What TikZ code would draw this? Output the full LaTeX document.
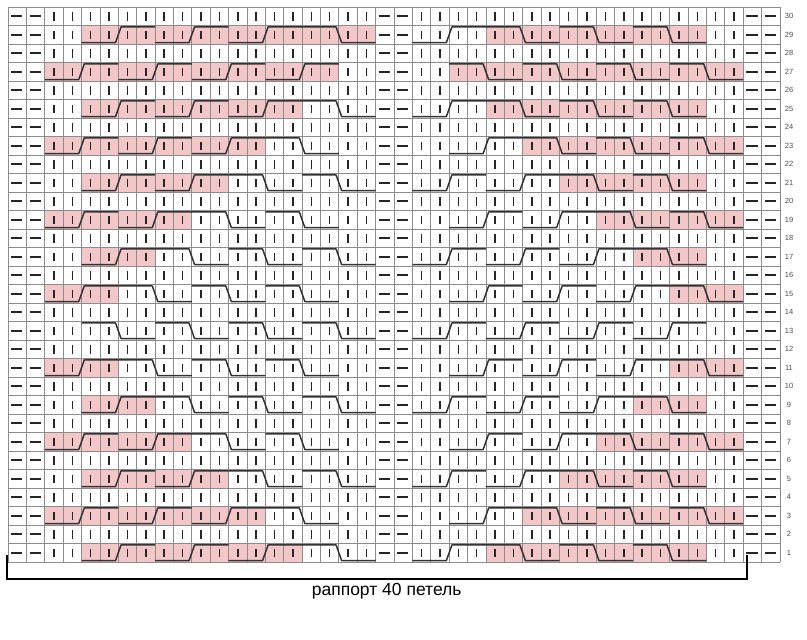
\documentclass[tikz,border=0pt]{standalone}
\usepackage{fontspec}
\setmainfont{Liberation Sans}
\usepackage{xcolor}
\definecolor{cablepink}{RGB}{243,198,199}
\definecolor{gridgray}{RGB}{140,140,140}
\usepackage{tikz}
\tikzset{
  gridln/.style ={draw=gridgray, line width=0.8pt},
  knit/.style   ={draw=black!85, line width=1.5pt},
  purl/.style   ={draw=black!85, line width=1.8pt},
  cab/.style    ={draw=black!80, line width=1.5pt, line join=round},
  pinkc/.style  ={fill=cablepink},
  rownum/.style ={font=\fontsize{7.5}{8}\selectfont, text=black!70, inner sep=0pt},
  caption/.style={font=\fontsize{17.5}{20}\selectfont, inner sep=0pt},
  bracket/.style={draw=black, line width=1.8pt},
}
% 2/2 cables over four stitches: #1 = first column, #2 = chart row
\newcommand{\cabup}[2]{%
  \draw[cab] ({#1-1},{30.92-#2}) -- ({#1+0.85},{30.92-#2})
             -- ({#1+1.15},{30.08-#2}) -- ({#1+3},{30.08-#2});}
\newcommand{\cabdn}[2]{%
  \draw[cab] ({#1-1},{30.08-#2}) -- ({#1+0.85},{30.08-#2})
             -- ({#1+1.15},{30.92-#2}) -- ({#1+3},{30.92-#2});}

\begin{document}
\begin{tikzpicture}[x=1pt,y=-1pt]
  \useasboundingbox (0,0) rectangle (807,640);
  \begin{scope}[shift={(8,7)}, x=18.381pt, y=-18.5pt]
    % shaded cables
    \foreach \r/\cl in {1/{5,9,13,27,31,35}, 3/{3,7,11,29,33,37}, 5/{5,9,31,35},
                        7/{3,7,33,37}, 9/{5,35}, 11/{3,37}, 15/{3,37}, 17/{5,35},
                        19/{3,7,33,37}, 21/{5,9,31,35}, 23/{3,7,11,29,33,37},
                        25/{5,9,13,27,31,35}, 27/{3,7,11,15,25,29,33,37},
                        29/{5,9,13,17,27,31,35}}
      \foreach \c in \cl {\fill[pinkc] ({\c-1},{30-\r}) rectangle ({\c+3},{31-\r});}
    % grid
    \foreach \c in {0,...,42} \draw[gridln] (\c,0) -- (\c,30);
    \foreach \r in {0,...,30} \draw[gridln] (0,\r) -- (42,\r);
    % knit and purl stitches
    \foreach \s in {0,20}
      \foreach \c in {3,...,20}
        \foreach \r in {1,...,30}
          \draw[knit] ({\c+\s-0.5},{30.29-\r}) -- ({\c+\s-0.5},{30.74-\r});
    \foreach \c in {1,2,21,22,41,42}
      \foreach \r in {1,...,30}
        \draw[purl] ({\c-0.83},{30.5-\r}) -- ({\c-0.22},{30.5-\r});
    % cables
    \foreach \r/\cl in {1/{5,9,13,23}, 3/{3,7,11,25}, 5/{5,9,23,27}, 7/{3,7,25,29},
                        9/{5,23,27,31}, 11/{3,25,29,33}, 13/{23,27,31,35},
                        15/{3,25,29,33}, 17/{5,23,27,31}, 19/{3,7,25,29},
                        21/{5,9,23,27}, 23/{3,7,11,25}, 25/{5,9,13,23},
                        27/{3,7,11,15}, 29/{5,9,13,23}}
      \foreach \c in \cl {\cabup{\c}{\r}}
    \foreach \r/\cl in {1/{17,27,31,35}, 3/{15,29,33,37}, 5/{13,17,31,35},
                        7/{11,15,33,37}, 9/{9,13,17,35}, 11/{7,11,15,37},
                        13/{5,9,13,17}, 15/{7,11,15,37}, 17/{9,13,17,35},
                        19/{11,15,33,37}, 21/{13,17,31,35}, 23/{15,29,33,37},
                        25/{17,27,31,35}, 27/{25,29,33,37}, 29/{17,27,31,35}}
      \foreach \c in \cl {\cabdn{\c}{\r}}
    % row numbers
    \foreach \r in {1,...,30}
      \node[rownum] (num\r) at (42.49,{30.5-\r}) {\r};
    % repeat bracket
    \coordinate (rapL) at (-0.05,29.62);
    \coordinate (rapR) at (40.2,29.62);
    \draw[bracket] (rapL) -- ++(0,1.3) -| (rapR);
    \node[caption] (rapport) at (20.6,31.57) {раппорт 40 петель};
  \end{scope}
\end{tikzpicture}
\end{document}
